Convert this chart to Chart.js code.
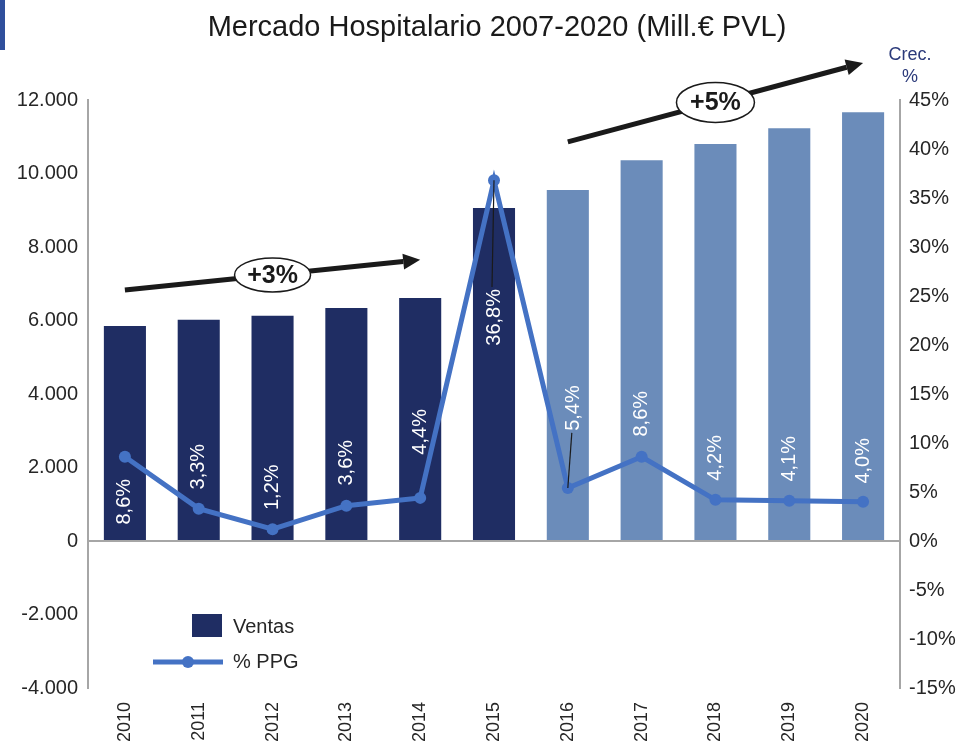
<!DOCTYPE html>
<html><head><meta charset="utf-8">
<script src="https://cdn.jsdelivr.net/npm/chart.js@4.4.1/dist/chart.umd.min.js"></script>
<style>
html,body{margin:0;padding:0;background:#fff;}
#wrap{position:relative;width:960px;height:747px;}
#accent{position:absolute;left:0;top:0;width:5px;height:50px;background:#2f4f9c;}
</style></head><body>
<div id="wrap"><canvas id="c" width="960" height="747"></canvas><div id="accent"></div></div>
<script>
const years = ['2010','2011','2012','2013','2014','2015','2016','2017','2018','2019','2020'];
const ventas = [5850, 6020, 6130, 6340, 6610, 9060, 9550, 10360, 10800, 11230, 11670];
const ppg = [8.6, 3.3, 1.2, 3.6, 4.4, 36.8, 5.4, 8.6, 4.2, 4.1, 4.0];
const firstProjected = '2016';
const trends = [
  {label: '+3%', from: ['2010', 6830], to: ['2014', 7650]},
  {label: '+5%', from: ['2016', 10860], to: ['2020', 13010]}
];
const titleText = 'Mercado Hospitalario 2007-2020 (Mill.€ PVL)';
const rightTitle = ['Crec.', '%'];
const seriesNames = ['Ventas', '% PPG'];

const DARK = '#1f2d63', LIGHT = '#6b8cba', LINE = '#4472c4', AXIS = '#a6a6a6', TXT = '#262626';
const FONT = "'Liberation Sans', Arial, sans-serif";

function fmtThousands(v){
  const s = Math.abs(v).toString().replace(/\B(?=(\d{3})+(?!\d))/g, '.');
  return (v < 0 ? '-' : '') + s;
}
function fmtPct(v){ return v.toFixed(1).replace('.', ',') + '%'; }

const decorPlugin = {
  id: 'decor',
  afterDraw(chart, args, opts){
    const ctx = chart.ctx, x = chart.scales.x, y = chart.scales.y;
    ctx.save();
    // title
    ctx.fillStyle = '#1a1a1a';
    ctx.font = '29px ' + FONT;
    ctx.textAlign = 'center'; ctx.textBaseline = 'middle';
    ctx.fillText(titleText, 497, 28);
    // right title
    ctx.fillStyle = '#2b3a7a';
    ctx.font = '18px ' + FONT;
    ctx.fillText(rightTitle[0], 910, 55);
    ctx.fillText(rightTitle[1], 910, 77);

    // data labels for PPG
    const meta = chart.getDatasetMeta(1);
    ctx.font = '20px ' + FONT;
    meta.data.forEach((pt, i) => {
      const o = opts.labelOffsets[i];
      const cx = pt.x + (o[1] || 0), cy = pt.y + o[0];
      const txt = fmtPct(ppg[i]);
      if (opts.leaders.includes(i)) {
        const half = ctx.measureText(txt).width / 2 + 2;
        const ey = o[0] > 0 ? cy - half : cy + half;
        ctx.strokeStyle = '#1a1a1a'; ctx.lineWidth = 1.2;
        ctx.beginPath(); ctx.moveTo(pt.x, pt.y); ctx.lineTo(cx - 2, ey); ctx.stroke();
      }
      ctx.save();
      ctx.translate(cx, cy);
      ctx.rotate(-Math.PI / 2);
      ctx.fillStyle = '#ffffff';
      ctx.textAlign = 'center'; ctx.textBaseline = 'middle';
      ctx.fillText(txt, 0, 0);
      ctx.restore();
    });

    // trend arrows
    trends.forEach((t, k) => {
      const x1 = x.getPixelForValue(years.indexOf(t.from[0])), y1 = y.getPixelForValue(t.from[1]);
      const x2 = x.getPixelForValue(years.indexOf(t.to[0])), y2 = y.getPixelForValue(t.to[1]);
      const ang = Math.atan2(y2 - y1, x2 - x1);
      const hl = 17, hw = 8;
      const bx = x2 - hl * Math.cos(ang), by = y2 - hl * Math.sin(ang);
      ctx.strokeStyle = '#1a1a1a'; ctx.fillStyle = '#1a1a1a'; ctx.lineWidth = 5;
      ctx.beginPath(); ctx.moveTo(x1, y1); ctx.lineTo(bx, by); ctx.stroke();
      ctx.beginPath();
      ctx.moveTo(x2, y2);
      ctx.lineTo(bx + hw * Math.sin(ang), by - hw * Math.cos(ang));
      ctx.lineTo(bx - hw * Math.sin(ang), by + hw * Math.cos(ang));
      ctx.closePath(); ctx.fill();
      const mx = (x1 + x2) / 2, my = (y1 + y2) / 2;
      const ry = k === 0 ? 17 : 20, rx = k === 0 ? 38 : 39;
      ctx.beginPath(); ctx.ellipse(mx, my, rx, ry, 0, 0, Math.PI * 2);
      ctx.fillStyle = '#ffffff'; ctx.fill();
      ctx.lineWidth = 1.5; ctx.strokeStyle = '#1a1a1a'; ctx.stroke();
      ctx.fillStyle = '#1a1a1a'; ctx.font = 'bold 25px ' + FONT;
      ctx.textAlign = 'center'; ctx.textBaseline = 'middle';
      ctx.fillText(t.label, mx, my + 1);
    });

    // legend
    ctx.fillStyle = DARK;
    ctx.fillRect(192, 614, 30, 23);
    ctx.strokeStyle = LINE; ctx.lineWidth = 5;
    ctx.beginPath(); ctx.moveTo(153, 662); ctx.lineTo(223, 662); ctx.stroke();
    ctx.fillStyle = LINE;
    ctx.beginPath(); ctx.arc(188, 662, 6, 0, Math.PI * 2); ctx.fill();
    ctx.fillStyle = TXT; ctx.font = '20px ' + FONT;
    ctx.textAlign = 'left'; ctx.textBaseline = 'middle';
    ctx.fillText(seriesNames[0], 233, 627);
    ctx.fillText(seriesNames[1], 233, 662);
    ctx.restore();
  }
};

new Chart(document.getElementById('c'), {
  data: {
    labels: years,
    datasets: [
      {
        type: 'bar', label: seriesNames[0], data: ventas, yAxisID: 'y', order: 2,
        backgroundColor: ctx => ctx.dataIndex < years.indexOf(firstProjected) ? DARK : LIGHT,
        barPercentage: 0.57, categoryPercentage: 1.0
      },
      {
        type: 'line', label: seriesNames[1], data: ppg, yAxisID: 'y1', order: 1,
        borderColor: LINE, backgroundColor: LINE, borderWidth: 5, tension: 0,
        pointRadius: 6, pointHoverRadius: 6, pointBackgroundColor: LINE, pointBorderWidth: 0
      }
    ]
  },
  options: {
    responsive: false, animation: false,
    layout: {padding: {top: 100, left: 0, right: 0, bottom: 0}},
    plugins: {
      legend: {display: false}, tooltip: {enabled: false},
      decor: {
        labelOffsets: [[45],[-42],[-42],[-43],[-66],[137],[-80,6],[-43],[-42],[-42],[-41]],
        leaders: [5, 6]
      }
    },
    scales: {
      x: {
        type: 'category', offset: true,
        grid: {display: false}, border: {display: false},
        ticks: {minRotation: 90, maxRotation: 90, color: TXT, font: {family: FONT, size: 18}, padding: 6},
        afterFit: s => { s.height = 59; }
      },
      y: {
        position: 'left', min: -4000, max: 12000,
        ticks: {stepSize: 2000, color: TXT, font: {family: FONT, size: 20}, padding: 10, callback: v => fmtThousands(v)},
        grid: {drawTicks: false, color: c => c.tick && c.tick.value === 0 ? AXIS : 'rgba(0,0,0,0)', lineWidth: 2},
        border: {display: true, color: AXIS, width: 2},
        afterFit: s => { s.width = 88; }
      },
      y1: {
        position: 'right', min: -15, max: 45,
        ticks: {stepSize: 5, color: TXT, font: {family: FONT, size: 20}, padding: 9, callback: v => v + '%'},
        grid: {display: false, drawTicks: false},
        border: {display: true, color: AXIS, width: 2},
        afterFit: s => { s.width = 60; }
      }
    }
  },
  plugins: [decorPlugin]
});
</script>
</body></html>
